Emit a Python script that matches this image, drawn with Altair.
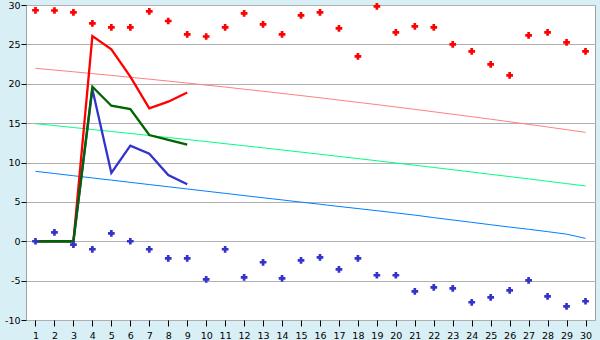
import altair as alt
import pandas as pd

x_all = list(range(1, 31))
x_short = list(range(1, 10))

red_line = [0, 0, 0, 26.06, 24.37, 20.9, 16.88, 17.72, 18.9]
green_line = [0, 0, 0, 19.63, 17.21, 16.79, 13.49, 12.86, 12.27]
blue_line = [0, 0, 0, 19.3, 8.67, 12.14, 11.12, 8.4, 7.23]

red_pts = [29.33, 29.3, 29.07, 27.67, 27.17, 27.17, 29.2, 27.97, 26.27, 26.0,
           27.17, 28.94, 27.54, 26.27, 28.69, 29.07, 27.04, 23.48, 29.83, 26.53,
           27.29, 27.17, 25.0, 24.12, 22.46, 21.07, 26.15, 26.53, 25.26, 24.12]
blue_pts = [0, 1.13, -0.43, -1.02, 1.0, 0, -1.02, -2.17, -2.17, -4.83,
            -1.02, -4.58, -2.67, -4.71, -2.42, -2.04, -3.56, -2.17, -4.32, -4.32,
            -6.36, -5.85, -5.98, -7.75, -7.12, -6.23, -4.96, -6.99, -8.26, -7.62]

pink_trend = [21.96, 21.74, 21.52, 21.29, 21.06, 20.82, 20.58, 20.34, 20.09, 19.83,
              19.58, 19.31, 19.05, 18.77, 18.50, 18.22, 17.93, 17.64, 17.35, 17.05,
              16.75, 16.44, 16.13, 15.82, 15.50, 15.17, 14.84, 14.51, 14.17, 13.83]
lime_trend = [14.93, 14.69, 14.44, 14.19, 13.94, 13.69, 13.43, 13.17, 12.92, 12.66,
              12.39, 12.13, 11.86, 11.59, 11.32, 11.05, 10.77, 10.50, 10.22, 9.94,
              9.65, 9.37, 9.08, 8.79, 8.50, 8.21, 7.92, 7.62, 7.32, 7.02]
azure_trend = [8.88, 8.60, 8.32, 8.04, 7.76, 7.48, 7.20, 6.92, 6.64, 6.36,
               6.08, 5.80, 5.52, 5.25, 4.97, 4.70, 4.42, 4.15, 3.88, 3.60,
               3.32, 3.00, 2.70, 2.40, 2.10, 1.80, 1.52, 1.22, 0.90, 0.37]

y_ticks = [-10, -5, 0, 5, 10, 15, 20, 25, 30]

trend_df = pd.concat([
    pd.DataFrame({"x": x_all, "y": pink_trend, "s": "pink"}),
    pd.DataFrame({"x": x_all, "y": lime_trend, "s": "lime"}),
    pd.DataFrame({"x": x_all, "y": azure_trend, "s": "azure"}),
])
main_df = pd.concat([
    pd.DataFrame({"x": x_short, "y": red_line, "s": "red"}),
    pd.DataFrame({"x": x_short, "y": blue_line, "s": "blue"}),
    pd.DataFrame({"x": x_short, "y": green_line, "s": "green"}),
])
pts_df = pd.concat([
    pd.DataFrame({"x": x_all, "y": red_pts, "s": "redpt"}),
    pd.DataFrame({"x": x_all, "y": blue_pts, "s": "bluept"}),
])

dom = ["pink", "lime", "azure", "red", "blue", "green", "redpt", "bluept"]
rng = ["#ff8080", "#00ff80", "#0080ff", "#ff0000", "#3333cc", "#006400", "#ff0000", "#3333cc"]
color = alt.Color("s:N", scale=alt.Scale(domain=dom, range=rng), legend=None)

FONT = "DejaVu Sans"
FS = 9.5

xenc = alt.X("x:Q", scale=alt.Scale(domain=[0.5, 30.5], nice=False, zero=False),
             axis=alt.Axis(values=x_all, grid=False, tickSize=6, tickColor="#000000",
                           labelPadding=4, domain=False, title=None, labelFontSize=FS,
                           labelColor="#000000", labelFont=FONT))
yenc = alt.Y("y:Q", scale=alt.Scale(domain=[-10, 30], nice=False, zero=False),
             axis=alt.Axis(values=y_ticks, grid=True, gridColor="#b0b0b0", gridWidth=1,
                           tickSize=5, tickColor="#000000", labelPadding=1,
                           labelExpr="'' + datum.value",
                           domain=False, title=None, labelFontSize=FS,
                           labelColor="#000000", labelFont=FONT))

trend = alt.Chart(trend_df).mark_line(strokeWidth=1).encode(x=xenc, y=yenc, color=color, detail="s:N")
main_layers = [
    alt.Chart(main_df[main_df.s == s]).mark_line(strokeWidth=2.3).encode(x=xenc, y=yenc, color=color)
    for s in ["red", "blue", "green"]
]
pts = alt.Chart(pts_df).mark_point(shape="cross", filled=True, size=45, opacity=1).encode(
    x=xenc, y=yenc, color=color)

chart = alt.layer(trend, *main_layers, pts).properties(
    width=569, height=315,
    padding={"left": 26, "top": 5, "right": 5, "bottom": 20},
    autosize=alt.AutoSizeParams(type="none"),
    background="#d9eff6",
).configure_view(
    fill="#ffffff", stroke="#a0a0a0", strokeWidth=1
)

chart.save("out.html", embed_options={"renderer": "svg", "actions": False})
